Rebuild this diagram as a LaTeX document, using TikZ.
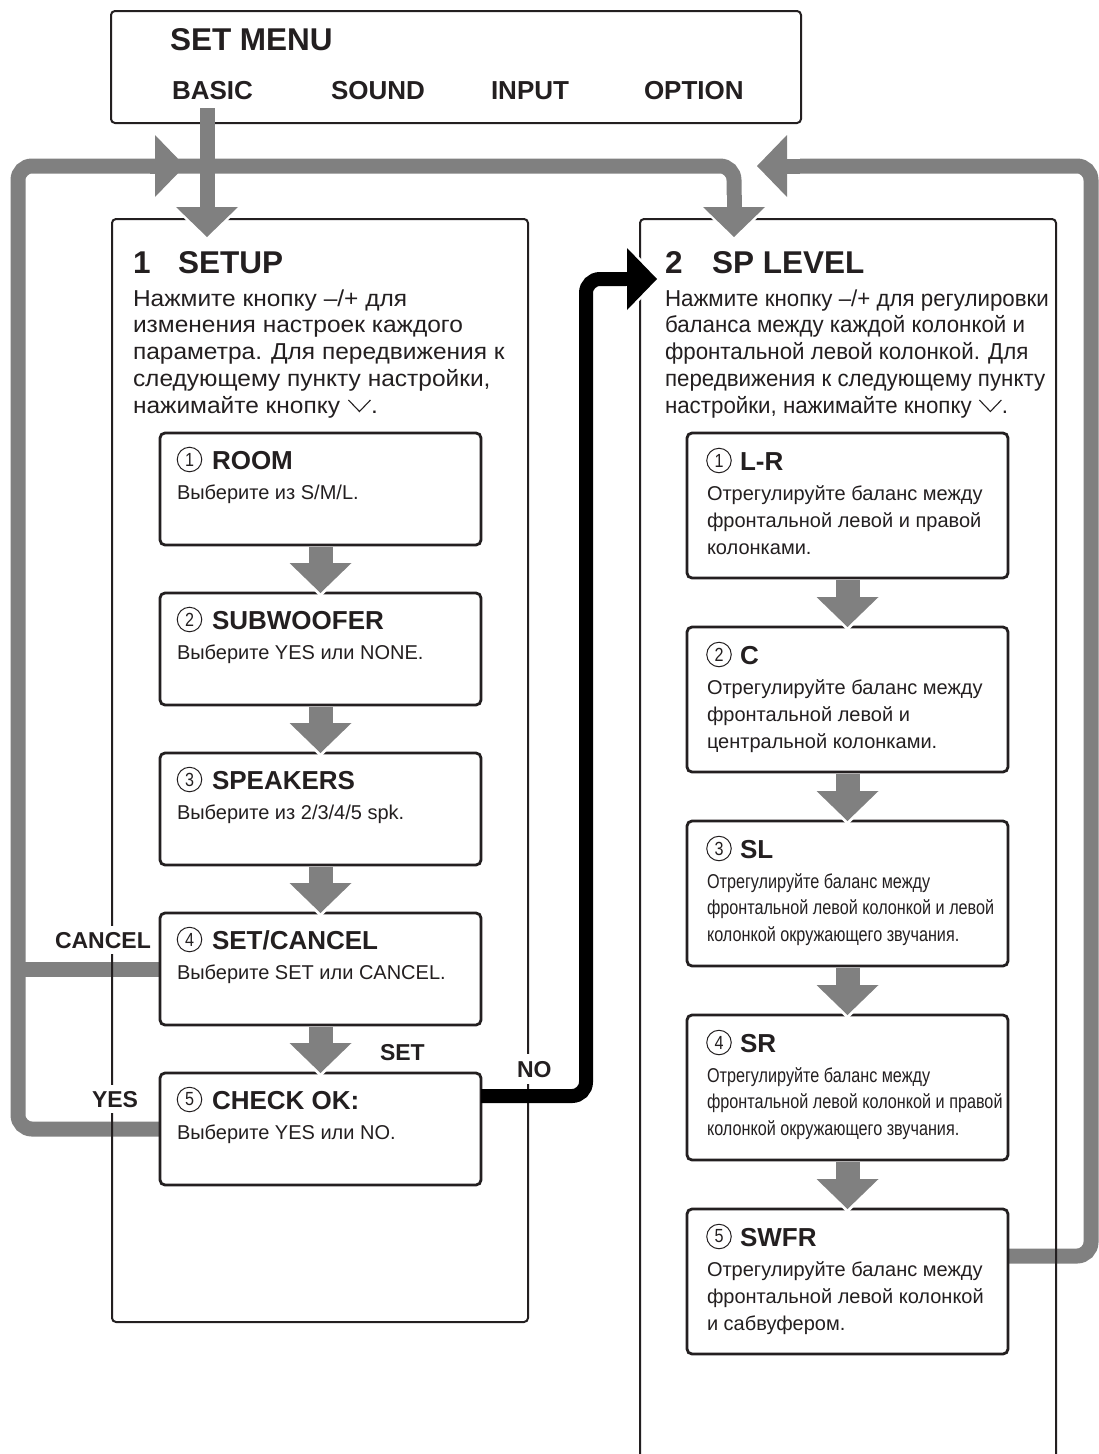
\documentclass[tikz,border=0pt]{standalone}
\usepackage{fontspec}
\setmainfont{Liberation Sans}
\newfontfamily\narrowfont[FakeStretch=0.81]{Liberation Sans}
\newfontfamily\widefont[FakeStretch=1.065]{Liberation Sans}
\newfontfamily\rparfont[FakeStretch=0.97]{Liberation Sans}
\newfontfamily\cnfont[FakeStretch=0.85]{Liberation Sans}
\usetikzlibrary{arrows.meta,calc}
\pgfdeclarelayer{loops}
\pgfdeclarelayer{frames}
\pgfsetlayers{loops,frames,main}
\definecolor{ink}{RGB}{35,31,32}
\definecolor{ag}{RGB}{128,128,128}
\newcommand\setfs[2]{\fontsize{#1pt}{#2pt}\selectfont}
\newcommand\titlefont{\bfseries\setfs{31.5}{36}}
\newcommand\menufont{\bfseries\setfs{26}{30}}
\newcommand\lparafont{\widefont\setfs{23}{26.75}}
\newcommand\rparafont{\rparfont\setfs{23}{26.75}}
\newcommand\headfont{\bfseries\setfs{26}{30}}
\newcommand\bodyfont{\setfs{20}{27}}
\newcommand\nbodyfont{\narrowfont\setfs{20}{26.5}}
\newcommand\labelfont{\bfseries\setfs{23}{27}}
\newcommand\mylines[1]{\begin{tabular}[t]{@{}l@{}}#1\end{tabular}}
\newcommand\vsym{\hspace{1pt}\tikz[x=1pt,y=1pt,baseline=0pt]\draw[ink,line width=1.1pt,line join=miter] (0,13)--(11,1.5)--(22,13);}
\tikzset{
  obox/.style={draw=ink, line width=2pt, rounded corners=4pt, anchor=north west},
  ibox/.style={draw=ink, fill=white, line width=2.8pt, rounded corners=5pt, anchor=north west},
  t/.style={anchor=base west, text=ink},
  cnum/.style={circle, draw=ink, line width=1pt, minimum size=24.5pt, text=ink, font=\cnfont\setfs{19}{19}},
  lab/.style={anchor=base west, text=ink, fill=white, inner sep=6pt, font=\labelfont},
  gline/.style={draw=ag, line width=15pt, rounded corners=14pt},
  garrh/.style={draw=ag, line width=15pt, -{Triangle[width=62pt,length=30pt,line width=0pt]}},
  garr/.style={draw=ag, line width=24pt, -{Triangle[width=62pt,length=30pt,line width=0pt]}},
  halo/.style={draw=white, -{Triangle[width=70pt,length=35pt,line width=0pt]}, shorten >=-4pt},
  bline/.style={draw=black, line width=14pt, rounded corners=14pt, -{Triangle[width=62pt,length=30pt,line width=0pt]}},
}
\newcommand\lbox[6]{%
  \node[ibox, minimum width=321pt, minimum height=112pt] (#1) at (160,#2) {};
  \node[cnum] (#1-n) at ($(#1.north west)+(29.5,26.5)$) {#3};
  \node[t, font=\headfont] (#1-h) at ($(#1.north west)+(52,36)$) {#4};
  \node[t, font=#5] (#1-b) at ($(#1.north west)+(17,66)$) {\mylines{#6}};
}
\newcommand\rbox[6]{%
  \node[ibox, minimum width=321pt, minimum height=145pt] (#1) at (687,#2) {};
  \node[cnum] (#1-n) at ($(#1.north west)+(32,27.5)$) {#3};
  \node[t, font=\headfont] (#1-h) at ($(#1.north west)+(53,37)$) {#4};
  \node[t, font=#5] (#1-b) at ($(#1.north west)+(20,67)$) {\mylines{#6}};
}
\begin{document}
\begin{tikzpicture}[x=1pt,y=-1pt, every node/.style={inner sep=0pt, outer sep=0pt}]
\useasboundingbox (0,0) rectangle (1099,1454);
\begin{pgfonlayer}{loops}
\fill[white] (0,0) rectangle (1099,1454);
\end{pgfonlayer}

% coordinates for free ends
\coordinate (bdown) at (207,108);
\coordinate (setupin) at (207,237);
\coordinate (spdown) at (734,195);
\coordinate (spin2) at (734,237);
\coordinate (lpx) at (18,166);
\coordinate (rpx) at (1091,166);
\coordinate (lptail) at (150,166);
\coordinate (lptip) at (185,166);
\coordinate (rptail) at (800,166);
\coordinate (rptip) at (757,166);
\coordinate (nox) at (586,279);
\coordinate (spin) at (657,279);

% inner boxes
\lbox{room}{433}{1}{ROOM}{\bodyfont}{Выберите из S/M/L.}
\lbox{sub}{593}{2}{SUBWOOFER}{\bodyfont}{Выберите YES или NONE.}
\lbox{spk}{753}{3}{SPEAKERS}{\bodyfont}{Выберите из 2/3/4/5 spk.}
\lbox{setc}{913}{4}{SET/CANCEL}{\bodyfont}{Выберите SET или CANCEL.}
\lbox{check}{1073}{5}{CHECK OK:}{\bodyfont}{Выберите YES или NO.}
\rbox{lr}{433}{1}{L-R}{\bodyfont}{Отрегулируйте баланс между\\фронтальной левой и правой\\колонками.}
\rbox{c}{627}{2}{C}{\bodyfont}{Отрегулируйте баланс между\\фронтальной левой и\\центральной колонками.}
\rbox{sl}{821}{3}{SL}{\nbodyfont}{Отрегулируйте баланс между\\фронтальной левой колонкой и левой\\колонкой окружающего звучания.}
\rbox{sr}{1015}{4}{SR}{\nbodyfont}{Отрегулируйте баланс между\\фронтальной левой колонкой и правой\\колонкой окружающего звучания.}
\rbox{swfr}{1209}{5}{SWFR}{\bodyfont}{Отрегулируйте баланс между\\фронтальной левой колонкой\\и сабвуфером.}

% gray loop lines (bottom layer)
\begin{pgfonlayer}{loops}
\draw[gline] (check.west) -| (lpx) -- (734,166) -- (spdown);
\draw[gline] (setc.west) -- (setc.west -| lpx);
\draw[gline] ($(swfr.north east)+(0,47)$) -| (rpx) -- (rptail);
\draw[garrh] (lptail) -- (lptip);
\draw[garrh] (rptail) -- (rptip);
\end{pgfonlayer}

% outer boxes and labels
\begin{pgfonlayer}{frames}
\node[obox, minimum width=690pt, minimum height=112pt] (menu) at (111,11) {};
\node[obox, minimum width=416pt, minimum height=1103pt] (setup) at (112,219) {};
\node[obox, minimum width=416pt, minimum height=1300pt] (splevel) at (640,219) {};
\node[lab] (lcancel) at (49,948) {CANCEL};
\node[lab] (lyes) at (86,1107) {YES};
\node[lab] (lset) at (374,1060) {SET};
\node[lab, inner sep=7pt] (lno) at (510,1077) {NO};
\end{pgfonlayer}

% top texts
\node[t, font=\bfseries\setfs{31.5}{36}] (menut) at (170,50) {SET MENU};
\node[t, font=\menufont] (basic) at (172,99) {BASIC};
\node[t, font=\menufont] (sound) at (331,99) {SOUND};
\node[t, font=\menufont] (input) at (491,99) {INPUT};
\node[t, font=\menufont] (option) at (644,99) {OPTION};

% section headings
\node[t, font=\titlefont] (s1n) at (133,273) {1};
\node[t, font=\titlefont] (s1t) at (178,273) {SETUP};
\node[t, font=\titlefont] (s2n) at (665,273) {2};
\node[t, font=\titlefont] (s2t) at (712,273) {SP LEVEL};

\node[t, font=\lparafont] (p1) at (133,306) {\mylines{Нажмите кнопку –/+ для\\
изменения настроек каждого\\
параметра. Для передвижения к\\
следующему пункту настройки,\\
нажимайте кнопку \vsym.}};
\node[t, font=\rparafont] (p2) at (665,306) {\mylines{Нажмите кнопку –/+ для регулировки\\
баланса между каждой колонкой и\\
фронтальной левой колонкой. Для\\
передвижения к следующему пункту\\
настройки, нажимайте кнопку \vsym.}};

% arrows into sections
\draw[halo, line width=15pt] (bdown) -- (setupin);
\draw[garrh] (bdown) -- (setupin);
\draw[halo, line width=15pt] (spdown) -- (spin2);
\draw[garrh] (spdown) -- (spin2);

% step arrows
\foreach \a/\b in {room/sub, sub/spk, spk/setc, setc/check, lr/c, c/sl, sl/sr, sr/swfr}{
  \draw[halo, line width=24pt] ($(\a.south)+(0,1.5)$) -- (\b.north);
  \draw[garr] ($(\a.south)+(0,1.5)$) -- (\b.north);
}

% NO arrow
\draw[bline] ($(check.north east)+(0,23)$) -| (nox) -- (spin);
\draw[halo, line width=14pt] ($(spin)+(-40,0)$) -- (spin);
\draw[draw=black, line width=14pt, -{Triangle[width=62pt,length=30pt,line width=0pt]}] ($(spin)+(-40,0)$) -- (spin);
\end{tikzpicture}
\end{document}
